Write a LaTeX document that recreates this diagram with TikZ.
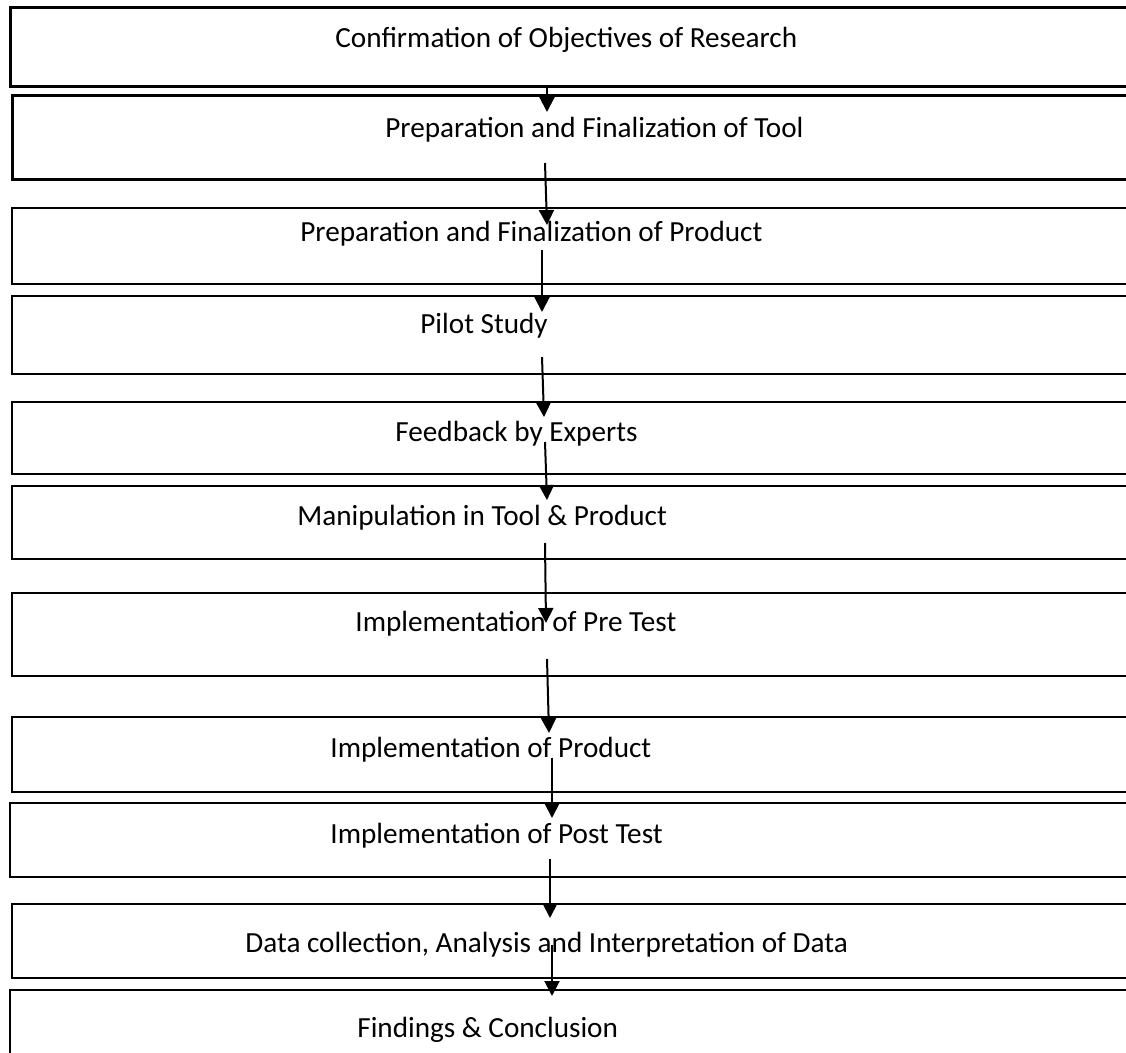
\documentclass[tikz,border=0pt]{standalone}
\usepackage{fontspec}
\setmainfont{Carlito}
\usetikzlibrary{arrows.meta,fit}
\begin{document}
\begin{tikzpicture}[x=0.5pt,y=-0.5pt,
  stage/.style={inner sep=0pt, outer sep=0pt, rectangle},
  rim/.style={draw=black, line width=1pt, line join=miter},
  heavy/.style={line width=1.5pt},
  caption/.style={anchor=base west, inner sep=0pt, font=\fontsize{14.6pt}{17pt}\selectfont},
  flow/.style={line width=1pt, -{Triangle[width=7.5pt,length=7.5pt]}}]
\fill[white] (0,0) rectangle (1126,1053);
\path[use as bounding box] (0,0) rectangle (1126,1053);

% stage boxes (they run past the right and bottom edges)
\node[stage, fit={(10,8) (1250,87)}]    (b1) {};
\node[stage, fit={(12,96) (1250,180)}]  (b2) {};
\node[stage, fit={(12,208) (1250,284)}] (b3) {};
\node[stage, fit={(12,296) (1250,374)}] (b4) {};
\node[stage, fit={(12,402) (1250,474)}] (b5) {};
\node[stage, fit={(12,486) (1250,559)}] (b6) {};
\node[stage, fit={(12,593) (1250,676)}] (b7) {};
\node[stage, fit={(12,717) (1250,792)}] (b8) {};
\node[stage, fit={(10,803) (1250,877)}] (b9) {};
\node[stage, fit={(12,904) (1250,978)}] (b10) {};
\node[stage, fit={(10,990) (1250,1120)}] (b11) {};

% outlines: top, left and bottom sides (the right side lies off the page)
\foreach \b in {b1,b2}
  \draw[rim, heavy] (\b.north east) -- (\b.north west) -- (\b.south west) -- (\b.south east);
\foreach \b in {b3,b4,b5,b6,b7,b8,b9,b10,b11}
  \draw[rim] (\b.north east) -- (\b.north west) -- (\b.south west) -- (\b.south east);

% stage titles
\node[caption] (t1)  at (335,48)   {Confirmation of Objectives of Research};
\node[caption] (t2)  at (385,138)  {Preparation and Finalization of Tool};
\node[caption] (t3)  at (300,242)  {Preparation and Finalization of Product};
\node[caption] (t4)  at (420,334)  {Pilot Study};
\node[caption] (t5)  at (395,442)  {Feedback by Experts};
\node[caption] (t6)  at (297,526)  {Manipulation in Tool \& Product};
\node[caption] (t7)  at (355,632)  {Implementation of Pre Test};
\node[caption] (t8)  at (330,758)  {Implementation of Product};
\node[caption] (t9)  at (330,843)  {Implementation of Post Test};
\node[caption] (t10) at (245,952)  {Data collection, Analysis and Interpretation of Data};
\node[caption] (t11) at (357,1037) {Findings \& Conclusion};

% arrow end points
\coordinate (s1)  at (547,87);   \coordinate (e1)  at (547,112);
\coordinate (s2)  at (545,163);  \coordinate (e2)  at (547,225);
\coordinate (s3)  at (542,250);  \coordinate (e3)  at (542,312);
\coordinate (s4)  at (542,357);  \coordinate (e4)  at (544,417);
\coordinate (s5)  at (545,442);  \coordinate (e5)  at (547,500);
\coordinate (s6)  at (545,543);  \coordinate (e6)  at (546,623);
\coordinate (s7)  at (547,659);  \coordinate (e7)  at (549,733);
\coordinate (s8)  at (552,758);  \coordinate (e8)  at (552,818);
\coordinate (s9)  at (550,859);  \coordinate (e9)  at (550,918);
\coordinate (s10) at (552,945);  \coordinate (e10) at (552,996);

\foreach \i in {1,...,10} \draw[flow] (s\i) -- (e\i);
\end{tikzpicture}
\end{document}
